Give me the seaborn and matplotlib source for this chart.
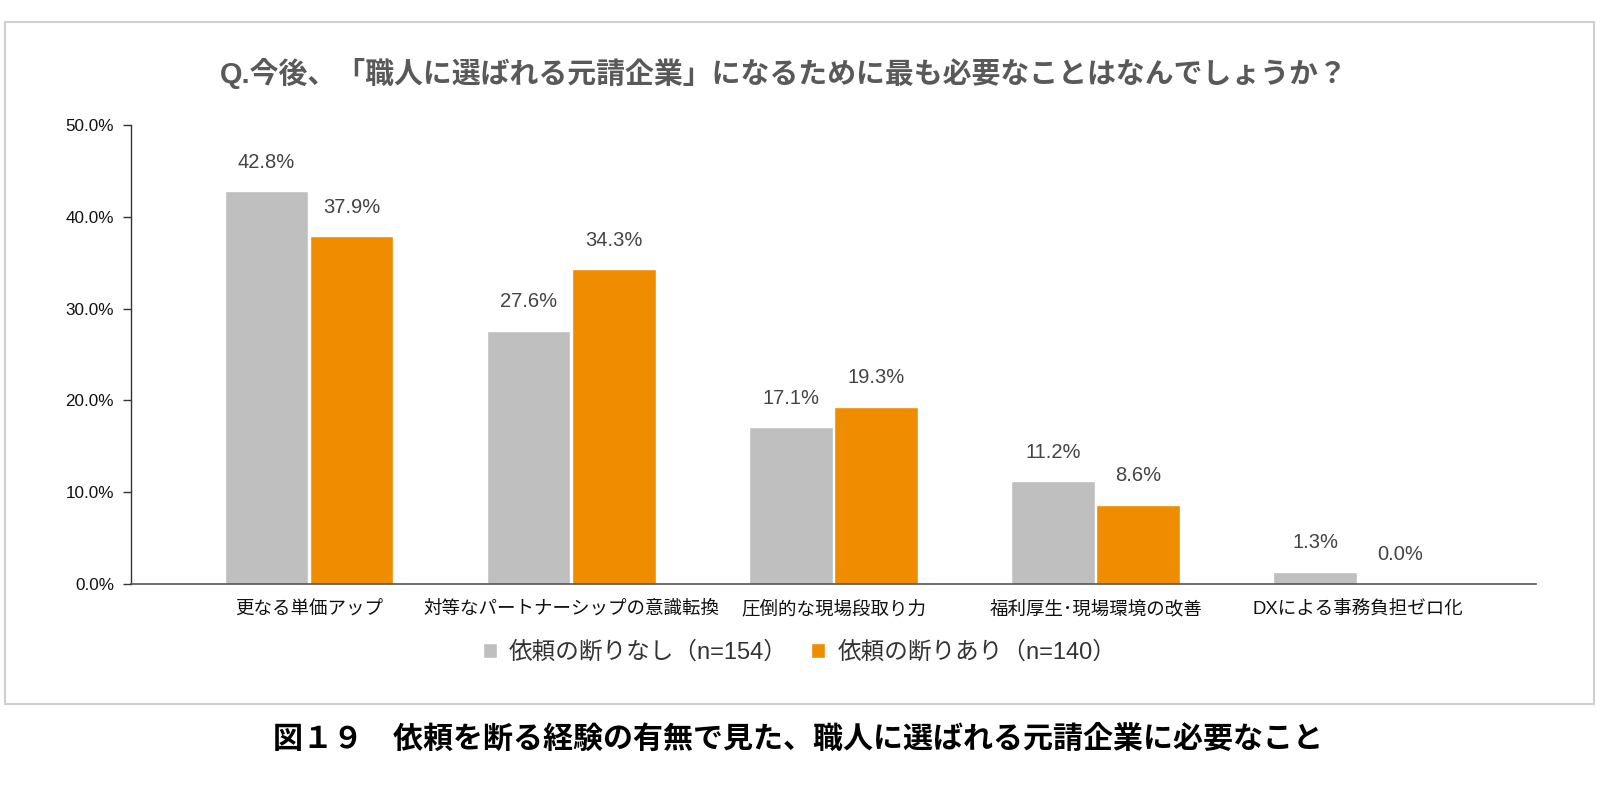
import numpy as np
import pandas as pd
import seaborn as sns
import matplotlib.pyplot as plt
from matplotlib.patches import Rectangle

categories = ["更なる単価アップ", "対等なパートナーシップの意識転換", "圧倒的な現場段取り力",
              "福利厚生･現場環境の改善", "DXによる事務負担ゼロ化"]
series_names = ["依頼の断りなし（n=154）", "依頼の断りあり（n=140）"]
no_decline = [42.8, 27.6, 17.1, 11.2, 1.3]
declined = [37.9, 34.3, 19.3, 8.6, 0.0]
y_ticks = [0, 10, 20, 30, 40, 50]
title = "Q.今後、「職人に選ばれる元請企業」になるために最も必要なことはなんでしょうか？"
caption = "図１９　依頼を断る経験の有無で見た、職人に選ばれる元請企業に必要なこと"

colors = ["#BFBFBF", "#EF8C00"]

df = pd.DataFrame({
    "category": categories * 2,
    "value": no_decline + declined,
    "series": [series_names[0]] * len(categories) + [series_names[1]] * len(categories),
})

sns.set_theme(style="white")
plt.rcParams['font.family'] = ['Liberation Sans', 'Noto Sans CJK JP', 'DejaVu Sans']

fig = plt.figure(figsize=(16, 8.07), dpi=100)
ax = fig.add_axes([0.0816, 0.2767, 0.8782, 0.5678])

sns.barplot(data=df, x="category", y="value", hue="series", palette=colors,
            width=0.65, gap=0.02, ax=ax, saturation=1, errorbar=None)

for cont in ax.containers:
    vals = [b.get_height() for b in cont]
    ax.bar_label(cont, labels=[f"{v:.1f}%" for v in vals], padding=14,
                 fontsize=14.5, color="#444444")

ax.set_xlim(-0.68, 4.678)
ax.set_ylim(0, 50)
ax.set_yticks(y_ticks)
ax.set_yticklabels([f"{t:.1f}%" for t in y_ticks], fontsize=12.3, color="#111111")
ax.tick_params(axis="y", direction="out", length=6, width=1, color="#333333", left=True, pad=6)
ax.tick_params(axis="x", length=0, pad=12, labelsize=13.3, labelcolor="#111111")
ax.set_xlabel("")
ax.set_ylabel("")
for s in ["top", "right"]:
    ax.spines[s].set_visible(False)
ax.spines["left"].set_color("#333333")
ax.spines["left"].set_linewidth(1)
ax.spines["bottom"].set_color("#555555")
ax.spines["bottom"].set_linewidth(1.2)

handles, labels = ax.get_legend_handles_labels()
ax.get_legend().remove()
fig.legend(handles, labels, loc="center", bbox_to_anchor=(0.4997, 0.191), ncol=2,
           frameon=False, fontsize=17, handlelength=0.6, handleheight=0.6,
           handletextpad=0.5, columnspacing=1.0, labelcolor="#333333")

fig.text(0.49, 0.909, title, ha="center", va="center", fontsize=20.8,
         fontweight="bold", color="#595959")
fig.text(0.499, 0.0843, caption, ha="center", va="center", fontsize=21.6,
         fontweight="bold", color="#000000")

fig.patches.append(Rectangle((5 / 1600, 1 - 704 / 807), 1589 / 1600, 681.6 / 807,
                             transform=fig.transFigure, fill=False,
                             edgecolor="#D0D0D0", linewidth=1.5))

fig.savefig("out.png", dpi=100, facecolor="white")
